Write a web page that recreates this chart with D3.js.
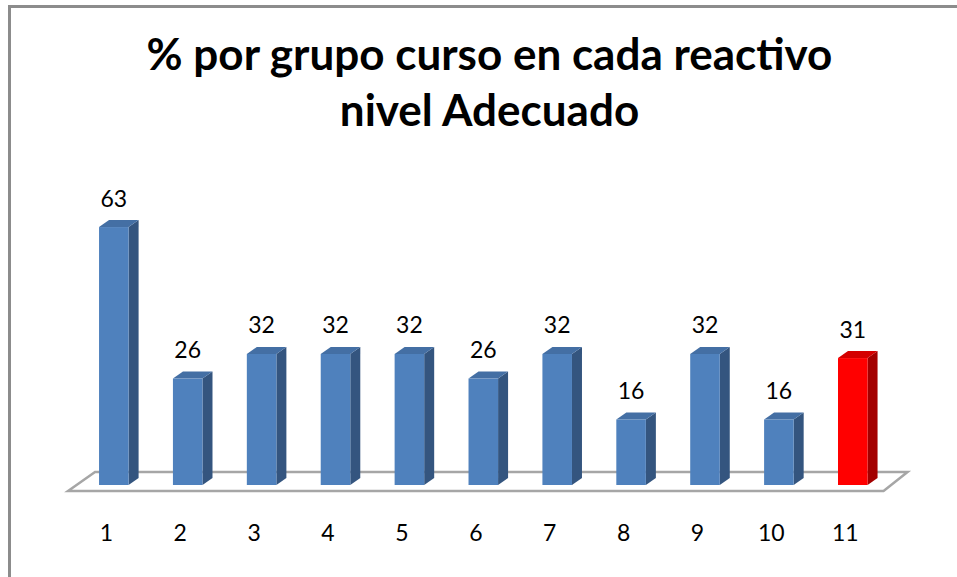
<!DOCTYPE html>
<html>
<head>
<meta charset="utf-8">
<script src="https://cdn.jsdelivr.net/npm/d3@7"></script>
<style>
  body{margin:0;background:#fff;}
  svg{display:block;}
</style>
</head>
<body>
<div id="chart"></div>
<script>
var categories=["1","2","3","4","5","6","7","8","9","10","11"];
var values=[63,26,32,32,32,26,32,16,32,16,31];
var titleLines=["% por grupo curso en cada reactivo","nivel Adecuado"];

var w=957,h=577, dx=10, dy=7, base=485;

var svg=d3.select("#chart").append("svg")
	.attr("width",w)
	.attr("height",h);

// chart frame
svg.append("rect")
	.attr("x",9.5).attr("y",6.5)
	.attr("width",w+20).attr("height",h+20)
	.attr("fill","#fff")
	.attr("stroke","#8c8c8c")
	.attr("stroke-width",3);

var x=d3.scaleBand()
	.domain(categories)
	.range([54.7,911.9])
	.padding(0.6);
var bw=x.bandwidth();

var y=d3.scaleLinear()
	.domain([0,70])
	.range([base,198.4]);

// floor
var fl=x(categories[0])-31, fr=x(categories[categories.length-1])+bw+16;
svg.append("path")
	.attr("d","M"+fl+",491L"+(fl+27)+",472L"+(fr+24)+",472L"+fr+",491Z")
	.attr("fill","none")
	.attr("stroke","#a6a6a6")
	.attr("stroke-width",2.5);

function colorsFor(i){
	if(i===categories.length-1) return {front:"#ff0000",top:"#d40000",side:"#a30000"};
	return {front:"#4f81bd",top:"#446fa4",side:"#34557f"};
}

var bars=svg.selectAll("g.bar").data(values).enter().append("g").attr("class","bar");

bars.append("path")
	.attr("d",function(d,i){
		var x0=x(categories[i])+bw, yt=y(d);
		return "M"+x0+","+yt+"L"+(x0+dx)+","+(yt-dy)+"L"+(x0+dx)+","+(base-dy)+"L"+x0+","+base+"Z";
	})
	.attr("fill",function(d,i){return colorsFor(i).side;});

bars.append("path")
	.attr("d",function(d,i){
		var x0=x(categories[i]), yt=y(d);
		return "M"+x0+","+yt+"L"+(x0+dx)+","+(yt-dy)+"L"+(x0+bw+dx)+","+(yt-dy)+"L"+(x0+bw)+","+yt+"Z";
	})
	.attr("fill",function(d,i){return colorsFor(i).top;});

bars.append("rect")
	.attr("x",function(d,i){return x(categories[i]);})
	.attr("y",function(d){return y(d);})
	.attr("width",bw)
	.attr("height",function(d){return base-y(d);})
	.attr("fill",function(d,i){return colorsFor(i).front;});

// value labels
svg.selectAll("text.val").data(values).enter().append("text")
	.attr("class","val")
	.attr("x",function(d,i){return x(categories[i])+bw/2;})
	.attr("y",function(d){return y(d)-20.5;})
	.attr("text-anchor","middle")
	.attr("font-family","Lato, sans-serif")
	.attr("font-size","23px")
	.attr("fill","#000")
	.text(function(d){return d;});

// category labels
svg.selectAll("text.cat").data(categories).enter().append("text")
	.attr("class","cat")
	.attr("x",function(d){return x(d)+bw/2-7.5;})
	.attr("y",541)
	.attr("text-anchor","middle")
	.attr("font-family","Lato, sans-serif")
	.attr("font-size","23px")
	.attr("fill","#000")
	.text(function(d){return d;});

// title
svg.selectAll("text.title").data(titleLines).enter().append("text")
	.attr("class","title")
	.attr("x",489.5)
	.attr("y",function(d,i){return 70+i*56;})
	.attr("text-anchor","middle")
	.attr("font-family","Lato, sans-serif")
	.attr("font-weight","bold")
	.attr("font-size","44px")
	.attr("fill","#000")
	.text(function(d){return d;});
</script>
</body>
</html>
